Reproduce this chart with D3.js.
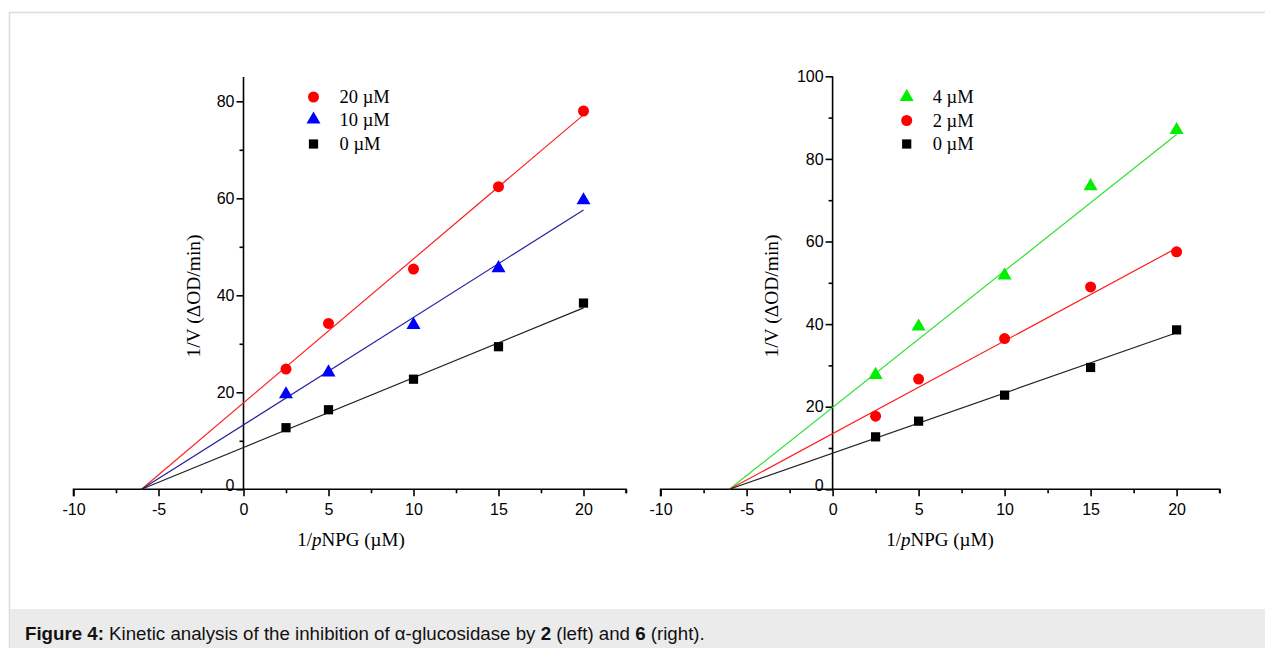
<!DOCTYPE html>
<html><head><meta charset="utf-8">
<script src="https://cdn.jsdelivr.net/npm/d3@7"></script>
<style>
body{margin:0;background:#fff;}
svg{display:block;}
</style></head>
<body>
<svg id="c" width="1265" height="648"></svg>
<script>
// ---- data ----
const xValues = [2.5, 5, 10, 15, 20];
const xTickValues = [-10, -5, 0, 5, 10, 15, 20];
const fitX = [-6, 20];

// left chart (compound 2)
const leftSeriesNames = ["20 µM", "10 µM", "0 µM"];
const leftSeriesValues = [
  [24.8, 34.2, 45.4, 62.4, 78.0],
  [19.6, 24.1, 33.9, 45.6, 59.6],
  [12.7, 16.4, 22.7, 29.4, 38.4]
];
const leftFitY = [[0, 77.2], [0, 57.6], [0, 37.4]];
const leftYTicks = [0, 20, 40, 60, 80];

// right chart (compound 6)
const rightSeriesNames = ["4 µM", "2 µM", "0 µM"];
const rightSeriesValues = [
  [27.7, 39.4, 51.8, 73.4, 87.0],
  [17.7, 26.7, 36.5, 49.0, 57.5],
  [12.7, 16.5, 22.8, 29.5, 38.6]
];
const rightFitY = [[0, 85.9], [0, 58.4], [0, 37.9]];
const rightYTicks = [0, 20, 40, 60, 80, 100];

const svg = d3.select("#c");

// frame
svg.append("line").attr("x1", 9).attr("x2", 1265).attr("y1", 12.5).attr("y2", 12.5).attr("stroke", "#dcdcdc").attr("stroke-width", 1.5);
svg.append("line").attr("x1", 9.5).attr("x2", 9.5).attr("y1", 12).attr("y2", 648).attr("stroke", "#dcdcdc").attr("stroke-width", 1.5);
svg.append("rect").attr("x", 10).attr("y", 609).attr("width", 1255).attr("height", 39).attr("fill", "#ebebeb");
const cap = svg.append("text").attr("x", 25).attr("y", 639.5).attr("font-family", "Liberation Sans, Arial, sans-serif").attr("font-size", 18.7).attr("fill", "#111");
cap.append("tspan").attr("font-weight", "bold").text("Figure 4:");
cap.append("tspan").text(" Kinetic analysis of the inhibition of α-glucosidase by ");
cap.append("tspan").attr("font-weight", "bold").text("2");
cap.append("tspan").text(" (left) and ");
cap.append("tspan").attr("font-weight", "bold").text("6");
cap.append("tspan").text(" (right).");

function drawChart(cfg) {
  const g = svg.append("g");
  const x = d3.scaleLinear().domain([-10, 22.5]).range(cfg.xRange);
  const y = d3.scaleLinear().domain(cfg.yDomain).range(cfg.yRange);
  const x0 = x(0), y0 = y(0);
  const sans = "Liberation Sans, Arial, sans-serif";
  const serif = "Liberation Serif, Times New Roman, serif";
  const fmt = d => String(d);

  // x axis
  const xAxis = d3.axisBottom(x).tickValues(xTickValues).tickSize(7).tickFormat(fmt);
  const xa = g.append("g").attr("transform", `translate(0,${y0})`).call(xAxis);
  const xMinor = d3.axisBottom(x).tickValues(d3.range(-7.5, 23, 5)).tickSize(4).tickFormat("");
  const xm = g.append("g").attr("transform", `translate(0,${y0})`).call(xMinor);
  xm.select(".domain").remove();
  // y axis
  const yAxis = d3.axisLeft(y).tickValues(cfg.yTicks).tickSize(7).tickFormat(fmt);
  const ya = g.append("g").attr("transform", `translate(${x0},0)`).call(yAxis);
  const yMinor = d3.axisLeft(y).tickValues(d3.range(10, cfg.yDomain[1], 20)).tickSize(4).tickFormat("");
  const ym = g.append("g").attr("transform", `translate(${x0},0)`).call(yMinor);
  ym.select(".domain").remove();
  [xa, xm, ya, ym].forEach(a => {
    a.attr("font-size", 16).attr("font-family", sans);
    a.selectAll("path,line").attr("stroke", "#000").attr("stroke-width", 1.6);
    a.selectAll("text").attr("fill", "#000");
  });
  xa.select(".domain").attr("d", `M${x(-10)},7V0H${x(22.5)}V4`);
  ya.select(".domain").attr("d", `M0,${y(cfg.yDomain[1])}V${y0}`);
  xa.selectAll(".tick text").attr("y", 14);
  ya.selectAll(".tick text").attr("x", -9);
  ya.selectAll(".tick").filter(d => d === 0).select("text").attr("dy", "0.1em").attr("x", -9);

  // fit lines
  const line = d3.line().x(d => x(d[0])).y(d => y(d[1]));
  cfg.fits.forEach((f, i) => {
    g.append("path").attr("d", line(fitX.map((xv, j) => [xv, f[j]])))
      .attr("fill", "none").attr("stroke", cfg.lineColors[i]).attr("stroke-width", 1.2);
  });

  // markers
  const sym = {circle: d3.symbol().type(d3.symbolCircle).size(95),
               triangle: d3.symbol().type(d3.symbolTriangle).size(85),
               square: d3.symbol().type(d3.symbolSquare).size(85)};
  cfg.values.forEach((vals, i) => {
    g.selectAll(null).data(vals).enter().append("path")
      .attr("d", sym[cfg.shapes[i]]())
      .attr("transform", (d, j) => `translate(${x(xValues[j])},${y(d)})`)
      .attr("fill", cfg.colors[i]);
  });

  // legend
  cfg.names.forEach((n, i) => {
    const ly = cfg.legendY[i];
    g.append("path").attr("d", sym[cfg.shapes[i]]()).attr("transform", `translate(${cfg.legendX},${ly})`).attr("fill", cfg.colors[i]);
    g.append("text").attr("x", cfg.legendX + 26).attr("y", ly + 6).attr("font-family", serif).attr("font-size", 18.5).attr("fill", "#000").text(n);
  });

  // axis titles
  const xt = g.append("text").attr("x", cfg.xTitleX).attr("y", 546).attr("text-anchor", "middle").attr("font-family", serif).attr("font-size", 19).attr("fill", "#000");
  xt.append("tspan").text("1/");
  xt.append("tspan").attr("font-style", "italic").text("p");
  xt.append("tspan").text("NPG (µM)");
  g.append("text").attr("transform", `translate(${cfg.yTitleX},${296}) rotate(-90)`).attr("text-anchor", "middle")
    .attr("font-family", serif).attr("font-size", 19.5).attr("fill", "#000").text("1/V (ΔOD/min)");
}

drawChart({
  xRange: [73.5, 626], yDomain: [0, 85], yRange: [489.3, 489.3 - 85 * 4.85], yTicks: leftYTicks,
  values: leftSeriesValues, fits: leftFitY, names: leftSeriesNames,
  colors: ["#ff0000", "#0000ff", "#000000"], lineColors: ["#ff2020", "#2020a0", "#202020"],
  shapes: ["circle", "triangle", "square"], legendX: 313.5, legendY: [97, 119.5, 144],
  xTitleX: 351, yTitleX: 200
});
drawChart({
  xRange: [660.6, 1219.6], yDomain: [0, 100], yRange: [489.3, 76.3], yTicks: rightYTicks,
  values: rightSeriesValues, fits: rightFitY, names: rightSeriesNames,
  colors: ["#00ee00", "#ff0000", "#000000"], lineColors: ["#30e030", "#ff2020", "#202020"],
  shapes: ["triangle", "circle", "square"], legendX: 906.7, legendY: [97, 120.5, 144],
  xTitleX: 940, yTitleX: 778
});
</script>
</body></html>
